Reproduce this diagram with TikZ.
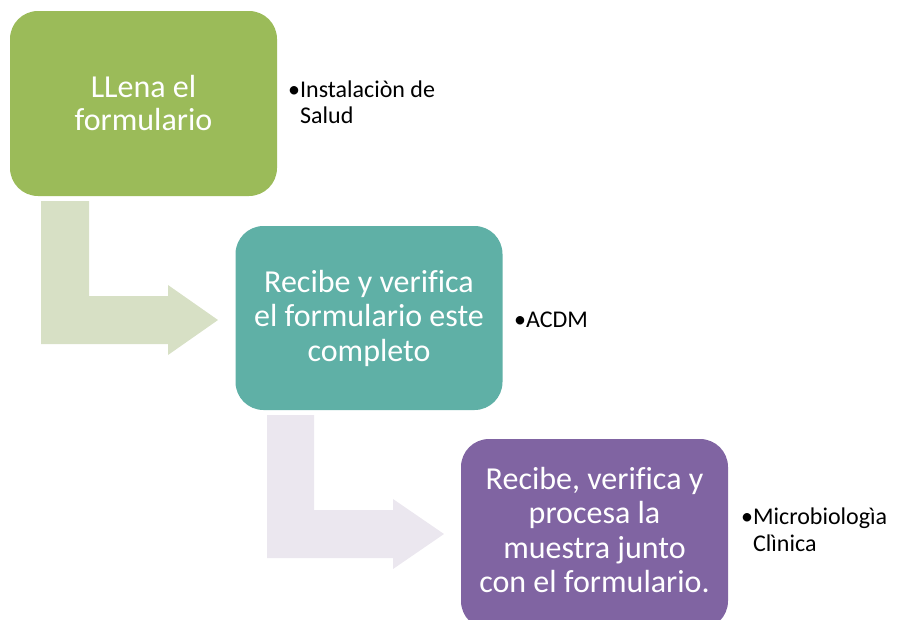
\documentclass[tikz,border=0pt]{standalone}
\usepackage{fontspec}
\setmainfont{Carlito}[Ligatures=NoCommon]
\definecolor{boxgreen}{HTML}{9BBB59}
\definecolor{boxteal}{HTML}{5FB0A6}
\definecolor{boxpurple}{HTML}{8064A2}
\definecolor{arrowgreen}{HTML}{D7E0C5}
\definecolor{arrowlav}{HTML}{EBE7EF}
\begin{document}
\begin{tikzpicture}[x=1pt,y=-1pt,
  stepbox/.style={rounded corners=28pt, text=white, align=center, inner sep=0pt,
    minimum width=267pt, minimum height=185pt},
  bigtext/.style={font=\fontsize{32}{34.5}\selectfont},
  label/.style={anchor=west, inner sep=0pt, font=\fontsize{24}{26}\selectfont, text=black}]
\useasboundingbox (0,0) rectangle (907,619);
\clip (0,0) rectangle (907,619);
% bent arrows
\fill[arrowgreen] (41,201) -- (89,201) -- (89,296) -- (168,296) -- (168,285) -- (218,320)
  -- (168,355) -- (168,344) -- (41,344) -- cycle;
\fill[arrowlav] (267,415) -- (314,415) -- (314,510) -- (393,510) -- (393,499) -- (444,534)
  -- (393,569) -- (393,558) -- (267,558) -- cycle;
% boxes
\node[stepbox, fill=boxgreen, font=\fontsize{32}{33}\selectfont] (b1) at (143.5,103.5)
  {LLena el\\formulario};
\node[stepbox, fill=boxteal, bigtext, minimum height=184pt] (b2) at (369,318)
  {Recibe y verifica\\el formulario este\\completo};
\node[stepbox, fill=boxpurple, bigtext, minimum height=190pt] (b3) at (594.5,534)
  {\raisebox{4pt}{\begin{tabular}{@{}c@{}}Recibe, verifica y\\procesa la\\muestra junto\\con el formulario.\end{tabular}}};
% labels
\node[label] (l1) at (288,105.5) {\begin{tabular}{@{}l@{}l@{}}•&Instalaciòn de\\&Salud\end{tabular}};
\node[label] (l2) at (514,320) {•ACDM};
\node[label, font=\fontsize{24}{27}\selectfont] (l3) at (741,533) {\begin{tabular}{@{}l@{}l@{}}•&Microbiologìa\\&Clìnica\end{tabular}};
\end{tikzpicture}
\end{document}
